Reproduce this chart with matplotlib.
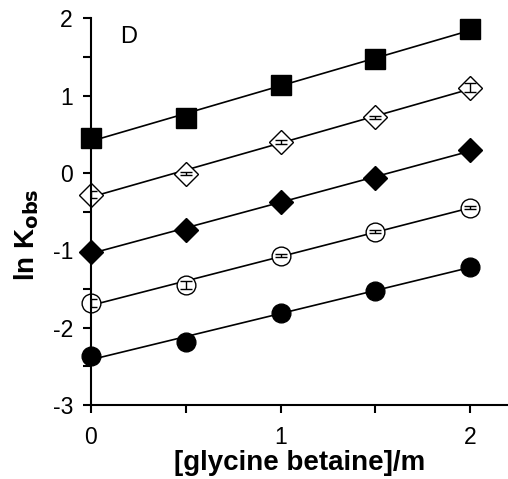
import matplotlib
matplotlib.use("Agg")
import matplotlib.pyplot as plt
import numpy as np

plt.rcParams['font.family'] = ['Liberation Sans', 'DejaVu Sans']

# glycine betaine molality
x = [0, 0.5, 1, 1.5, 2]

# ln Kobs for each series
sq_fill = [0.45, 0.71, 1.14, 1.47, 1.86]
dia_open = [-0.28, -0.01, 0.40, 0.72, 1.10]
dia_fill = [-1.02, -0.74, -0.37, -0.07, 0.30]
circ_open = [-1.68, -1.45, -1.07, -0.76, -0.45]
circ_fill = [-2.37, -2.18, -1.81, -1.52, -1.21]

# small error bars visible inside the open markers
err_dia = [0.05, 0.02, 0.02, 0.02, 0.06]
err_circ = [0.05, 0.05, 0.02, 0.02, 0.02]

fig = plt.figure(figsize=(5.08, 4.79), dpi=100)
ax = fig.add_axes([0.179, 0.1545, 0.821, 0.8075])

series = [
    (sq_fill, None, 's', 'black', 14),
    (dia_open, err_dia, 'D', 'white', 12),
    (dia_fill, None, 'D', 'black', 12),
    (circ_open, err_circ, 'o', 'white', 13.5),
    (circ_fill, None, 'o', 'black', 13.5),
]

xx = np.array(x)
for ys, err, mk, fc, ms in series:
    m, b = np.polyfit(xx, ys, 1)
    ax.plot([0, 2], [b, b + 2 * m], color='black', lw=1.2, zorder=1)
    if err is not None:
        ax.errorbar(x, ys, yerr=err, fmt='none', ecolor='black', elinewidth=1.0,
                    capsize=4, capthick=1.0, zorder=3)
    ax.plot(x, ys, linestyle='none', marker=mk, markersize=ms,
            markerfacecolor=fc, markeredgecolor='black', markeredgewidth=1.0,
            zorder=2, clip_on=False)

ax.set_xlim(0, 2.2)
ax.set_ylim(-3, 2)
ax.spines['top'].set_visible(False)
ax.spines['right'].set_visible(False)
ax.spines['left'].set_linewidth(1.5)
ax.spines['bottom'].set_linewidth(1.5)

ax.set_xticks([0, 0.5, 1, 1.5, 2])
ax.set_xticklabels(['0', '', '1', '', '2'])
ax.set_yticks([-3, -2.5, -2, -1.5, -1, -0.5, 0, 0.5, 1, 1.5, 2])
ax.set_yticklabels(['-3', '', '-2', '', '-1', '', '0', '', '1', '', '2'])
ax.tick_params(direction='out', length=6, width=1.5, labelsize=16.5, pad=7)
ax.tick_params(axis='x', pad=9)

ax.set_xlabel('[glycine betaine]/m', fontsize=20, fontweight='bold', labelpad=1)
ax.set_ylabel(r'ln K$_{\mathbf{obs}}$', fontsize=20, fontweight='bold')
ax.yaxis.set_label_coords(-0.12, 0.44)

ax.text(0.2, 1.76, 'D', fontsize=17, ha='center', va='center')

fig.savefig('out.png', dpi=100)
